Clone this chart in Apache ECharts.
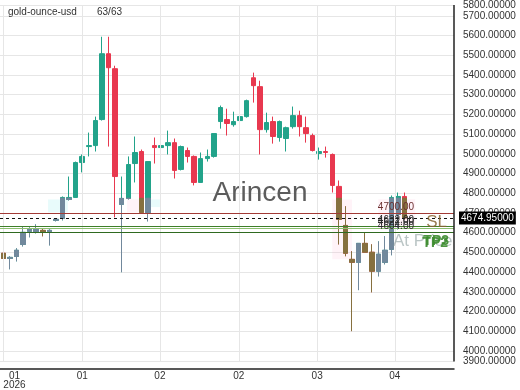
<!DOCTYPE html>
<html><head><meta charset="utf-8">
<script src="https://cdn.jsdelivr.net/npm/echarts@6/dist/echarts.min.js"></script>
<style>html,body{margin:0;padding:0;background:#fff}#c{width:520px;height:390px}</style>
</head><body><div id="c"></div>
<script>
// ---------- data ----------
const symbolName = 'gold-ounce-usd';
const countText = '63/63';
const watermark = 'Arincen';
const opens  = [4496,4470,4480,4541,4607,4602,4612,4602,4663,4673,4769,4779,4956,5037,5042,5174,5508,5432,4744,4774,4951,5012,4703,5042,5032,5042,5057,4921,5017,4987,4855,4976,4987,5164,5174,5148,5169,5189,5386,5341,5123,5164,5083,5078,5138,5194,5133,5093,5002,5012,4997,4835,4637,4465,4450,4546,4501,4405,4450,4516,4693,4784];
const closes = [4470,4475,4511,4602,4617,4617,4602,4612,4668,4779,4779,4956,4987,5042,5169,5508,5437,4885,4774,4946,5007,4703,4961,5032,5042,5057,4916,5037,4987,4855,4976,4987,5103,5235,5154,5164,5189,5270,5346,5123,5159,5088,5164,5133,5194,5138,5103,5017,5012,5007,4840,4668,4496,4450,4546,4501,4405,4491,4511,4779,4784,4674.95];
const lows   = [4430,4415,4455,4531,4577,4597,4582,4536,4658,4663,4764,4779,4906,4987,5012,5169,5037,4678,4400,4769,4855,4703,4658,4951,5007,4997,4875,4916,4956,4840,4855,4961,4981,5128,5093,5138,5133,5184,5260,4997,5108,5052,5062,5012,5128,5088,5057,5012,4971,4981,4804,4541,4481,4101,4309,4501,4298,4379,4440,4486,4617,4668];
const highs  = [4506,4480,4521,4632,4627,4642,4622,4617,4673,4784,4885,4961,4997,5108,5189,5594,5594,5447,4885,4987,5088,5022,4961,5083,5078,5118,5078,5042,5032,4992,5007,5022,5103,5245,5229,5214,5189,5275,5412,5371,5209,5189,5169,5138,5240,5219,5189,5103,5032,5037,5002,4865,4734,4506,4546,4602,4541,4556,4582,4789,4804,4804];
const tickValues = [0, 12, 23.8, 35.8, 47.7, 59.5];
const tickLabels = ['01\n2026', '01', '02', '02', '03', '04'];
const lastPrice = 4674.95;
const levelPrices = [4700, 4632, 4622, 4604];
const levelLabels = ['4700.00', '4632.00', '4622.00', '4604.00'];
const tagSL = 'SL', tagAt = 'At Price', tagTP2 = 'TP2', tagTP3 = 'TP3';
const zoneStarts = [6.8, 18.8, 21.8, 50, 57];
const zoneEnds   = [9.8, 20.8, 23.8, 53, 62.6];
const zoneLows   = [4703, 4703, 4730, 4465, 4620];
const zoneHighs  = [4769, 4769, 4769, 4769, 4770];
const zoneKinds  = ['buy', 'sell', 'buy', 'sell', 'sell'];
const fadeLevel = 4775;

// ---------- styling / layout ----------
const FONT = '"Liberation Sans", Arial, sans-serif';
const UP = '#22a38a', DOWN = '#e8384f';
const UP_FADE = '#71889c', DOWN_FADE = '#86703f';
const xMin = -0.5, xMax = 68.5, yMin = 3947, yMax = 5755;

const candleData = opens.map((o, i) => [i, o, closes[i], lows[i], highs[i]]);
const fadeData = [];
opens.forEach((o, i) => {
  const c = closes[i];
  if (Math.min(o, c) < fadeLevel) {
    const o2 = Math.min(o, fadeLevel), c2 = Math.min(c, fadeLevel);
    fadeData.push([i, o2, c2, lows[i], Math.max(Math.min(highs[i], fadeLevel), o2, c2)]);
  }
});
const labelValues = tickValues.map((v, i) => i === 0 ? v + 1.7 : v);

const zoneColor = k => k === 'buy' ? 'rgba(140,235,235,0.2)' : 'rgba(255,160,200,0.12)';
const areas = zoneStarts.map((s, i) => [
  { xAxis: s, yAxis: zoneHighs[i], itemStyle: { color: zoneColor(zoneKinds[i]) } },
  { xAxis: zoneEnds[i], yAxis: zoneLows[i] }
]);

const lineStyles = [
  { color: '#a23a36', width: 1 },
  { color: '#3f7f2a', width: 1.2 },
  { color: '#8cc070', width: 1 },
  { color: '#2f6a20', width: 1.2 }
];
const markLines = levelPrices.map((p, i) => ({ yAxis: p, lineStyle: Object.assign({ type: 'solid' }, lineStyles[i]), label: { show: false } }));
markLines.push({
  yAxis: lastPrice,
  lineStyle: { color: '#111', type: [3, 3], width: 1 },
  label: {
    show: true, position: 'end', distance: 5,
    formatter: () => lastPrice.toFixed(5),
    color: '#fff', backgroundColor: '#000', padding: [2, 2, 1, 2],
    fontSize: 10, fontFamily: FONT
  }
});
// right-hand axis border, drawn at the x-scale maximum
markLines.push({ xAxis: xMax, lineStyle: { color: '#222', type: 'solid', width: 1.5 }, label: { show: false } });
// vertical grid lines at the date ticks
const gridLines = tickValues.map(v => ({ xAxis: v }));

const yLabelFmt = v => (Math.round(v / 100) * 100).toFixed(5);
const option = {
  animation: false,
  backgroundColor: '#fff',
  grid: { left: 0, right: 66, top: 5, bottom: 28 },
  xAxis: {
    type: 'value', min: xMin, max: xMax, offset: 7,
    axisLine: { show: true, onZero: false, lineStyle: { color: '#222', width: 1.5 } },
    axisTick: { show: false, customValues: tickValues },
    axisLabel: {
      customValues: labelValues, color: '#333', fontSize: 10, fontFamily: FONT,
      lineHeight: 9, margin: 3,
      formatter: (v) => { const k = labelValues.indexOf(v); return k >= 0 ? tickLabels[k] : ''; }
    },
    splitLine: { show: false }
  },
  yAxis: [
    {
      type: 'value', position: 'right', min: yMin, max: yMax, splitNumber: 18,
      axisLine: { show: false, onZero: false },
      axisTick: { show: false },
      axisLabel: {
        color: '#333', fontSize: 10, fontFamily: FONT, margin: 9,
        showMinLabel: false, showMaxLabel: true,
        formatter: yLabelFmt
      },
      splitLine: { show: true, lineStyle: { color: '#e6e6e6', width: 1 } }
    },
    {
      type: 'value', position: 'right', min: yMin, max: yMax,
      axisLine: { show: false, onZero: false },
      axisTick: { show: false },
      splitLine: { show: false },
      axisLabel: {
        customValues: [yMin], color: '#333', fontSize: 10, fontFamily: FONT, margin: 9,
        formatter: yLabelFmt
      }
    }
  ],
  series: [
    {
      type: 'scatter', name: 'grid', data: candleData.map(d => [d[0], d[2]]),
      symbolSize: 0, silent: true, z: 0,
      markLine: { silent: true, symbol: 'none', label: { show: false },
        lineStyle: { color: '#e6e6e6', type: 'solid', width: 1 }, data: gridLines }
    },
    {
      type: 'candlestick', name: symbolName, data: candleData,
      encode: { x: 0, y: [1, 2, 3, 4] },
      barWidth: 5,
      itemStyle: { color: UP, color0: DOWN, borderColor: UP, borderColor0: DOWN, borderWidth: 1 },
      markArea: { silent: true, data: areas },
      z: 2
    },
    {
      type: 'candlestick', name: 'fade', data: fadeData,
      encode: { x: 0, y: [1, 2, 3, 4] },
      barWidth: 5,
      itemStyle: { color: UP_FADE, color0: DOWN_FADE, borderColor: UP_FADE, borderColor0: DOWN_FADE, borderWidth: 1 },
      markLine: { silent: true, symbol: 'none', data: markLines },
      z: 3
    }
  ]
};

const chart = echarts.init(document.getElementById('c'), null, { renderer: 'canvas' });
chart.setOption(option);

const yOf = p => chart.convertToPixel({ yAxisIndex: 0 }, p);
const xRight = chart.convertToPixel({ xAxisIndex: 0 }, xMax);
const labelColors = ['#6b2f2f', '#2a2a2a', '#2a2a2a', '#2a2a2a'];
const graphics = [
  { type: 'text', left: 8, top: 7, z: 10, style: { text: symbolName, font: '10px ' + FONT, fill: '#333' } },
  { type: 'text', left: 97, top: 7, z: 10, style: { text: countText, font: '10px ' + FONT, fill: '#333' } },
  { type: 'text', x: chart.getWidth() / 2, y: yOf(4800), z: 1, style: { text: watermark, font: '28px ' + FONT, fill: '#5c5c5c', align: 'center', verticalAlign: 'middle' } }
];
levelPrices.forEach((p, i) => {
  graphics.push({ type: 'text', x: xRight - 40, y: yOf(p) - 1, z: 10,
    style: { text: levelLabels[i], font: '10px ' + FONT, fill: labelColors[i], align: 'right', verticalAlign: 'bottom' } });
});
graphics.push({ type: 'text', x: xRight - 7, y: yOf(levelPrices[3]) - 1, z: 10,
  style: { text: tagSL, font: '17px ' + FONT, fill: 'rgba(135,100,50,0.85)', align: 'right', verticalAlign: 'bottom' } });
graphics.push({ type: 'text', x: xRight - 61, y: yOf(levelPrices[3]) + 1, z: 10,
  style: { text: tagAt, font: '17px ' + FONT, fill: 'rgba(130,150,150,0.55)', align: 'left', verticalAlign: 'top' } });
graphics.push({ type: 'text', x: xRight - 5, y: yOf(levelPrices[3]) + 2, z: 11,
  style: { text: tagTP3, font: 'bold 14px ' + FONT, fill: 'rgba(60,140,45,0.9)', align: 'right', verticalAlign: 'top' } });
graphics.push({ type: 'text', x: xRight - 6, y: yOf(levelPrices[3]) + 4, z: 11,
  style: { text: tagTP2, font: 'bold 14px ' + FONT, fill: 'rgba(60,140,45,0.9)', align: 'right', verticalAlign: 'top' } });
chart.setOption({ graphic: graphics });
</script>
</body></html>
